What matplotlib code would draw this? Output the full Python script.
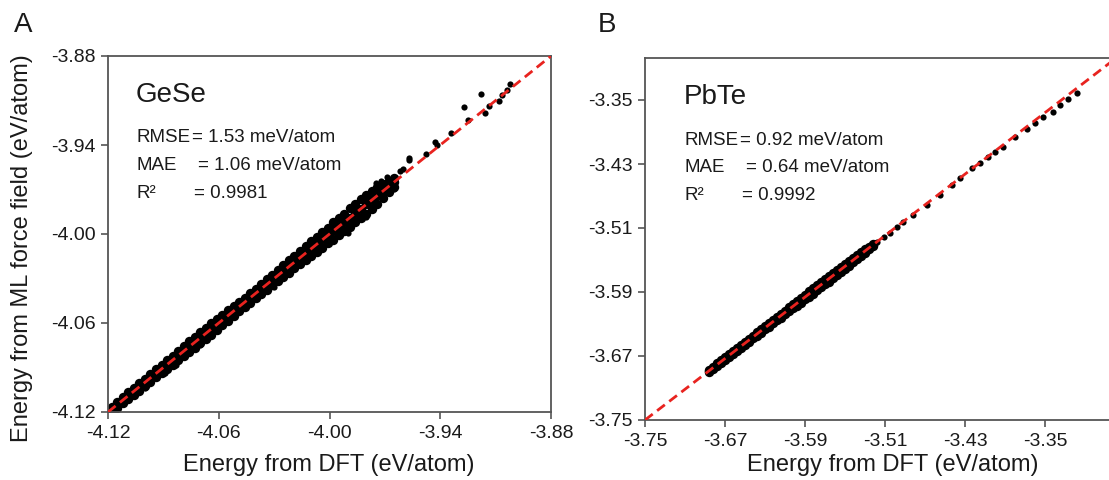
import matplotlib
matplotlib.use("Agg")
import matplotlib.pyplot as plt

plt.rcParams['font.family'] = ['Liberation Sans', 'DejaVu Sans']

# ---------------- Panel A : GeSe ----------------
a_ticks = [-4.12, -4.06, -4.00, -3.94, -3.88]
a_ticklabels = ["-4.12", "-4.06", "-4.00", "-3.94", "-3.88"]

a_band_dft = [-4.118, -4.115, -4.112, -4.109, -4.106, -4.103, -4.100, -4.097, -4.094, -4.091,
              -4.088, -4.085, -4.082, -4.079, -4.076, -4.073, -4.070, -4.067, -4.064, -4.061,
              -4.058, -4.055, -4.052, -4.049, -4.046, -4.043, -4.040, -4.037, -4.034, -4.031,
              -4.028, -4.025, -4.022, -4.019, -4.016, -4.013, -4.010, -4.007, -4.004, -4.001,
              -3.998, -3.995, -3.992, -3.989, -3.986, -3.983, -3.980, -3.977, -3.974, -3.971,
              -3.968, -3.965]
a_band_ml_low = [-4.1195, -4.1170, -4.1142, -4.1113, -4.1085, -4.1056, -4.1025, -4.0998, -4.0967, -4.0940,
                 -4.0908, -4.0880, -4.0852, -4.0825, -4.0796, -4.0768, -4.0736, -4.0708, -4.0680, -4.0648,
                 -4.0615, -4.0586, -4.0552, -4.0520, -4.0490, -4.0462, -4.0430, -4.0403, -4.0375, -4.0344,
                 -4.0318, -4.0290, -4.0262, -4.0230, -4.0204, -4.0178, -4.0150, -4.0122, -4.0095, -4.0063,
                 -4.0038, -4.0010, -3.9978, -3.9952, -3.9920, -3.9895, -3.9863, -3.9830, -3.9795, -3.9760,
                 -3.9720, -3.9680]
a_band_ml_mid = [-4.1178, -4.1153, -4.1117, -4.1092, -4.1056, -4.1034, -4.0999, -4.0975, -4.0936, -4.0911,
                 -4.0877, -4.0853, -4.0818, -4.0794, -4.0755, -4.0732, -4.0699, -4.0673, -4.0636, -4.0611,
                 -4.0578, -4.0554, -4.0517, -4.0492, -4.0459, -4.0433, -4.0396, -4.0371, -4.0338, -4.0314,
                 -4.0277, -4.0252, -4.0215, -4.0193, -4.0159, -4.0135, -4.0096, -4.0072, -4.0037, -4.0014,
                 -3.9978, -3.9951, -3.9916, -3.9893, -3.9859, -3.9832, -3.9797, -3.9774, -3.9738, -3.9711,
                 -3.9677, -3.9650]
a_band_ml_high = [-4.1165, -4.1130, -4.1098, -4.1067, -4.1035, -4.1004, -4.0975, -4.0942, -4.0913, -4.0880,
                  -4.0852, -4.0820, -4.0788, -4.0755, -4.0724, -4.0692, -4.0664, -4.0632, -4.0600, -4.0572,
                  -4.0545, -4.0514, -4.0488, -4.0460, -4.0430, -4.0398, -4.0370, -4.0337, -4.0305, -4.0276,
                  -4.0242, -4.0210, -4.0178, -4.0150, -4.0116, -4.0082, -4.0050, -4.0018, -3.9985, -3.9957,
                  -3.9922, -3.9890, -3.9862, -3.9828, -3.9800, -3.9765, -3.9737, -3.9710, -3.9685, -3.9660,
                  -3.9640, -3.9620]
a_out_dft = [-3.927, -3.918, -3.916, -3.9135, -3.925, -3.908, -3.9065, -3.904, -3.902, -3.943,
             -3.942, -3.9476, -3.957, -3.934, -3.962, -3.969, -3.9714, -3.965, -3.972, -3.957,
             -3.980, -4.089, -4.083, -4.100, -4.070, -4.030, -3.990, -3.975, -3.960]
a_out_ml = [-3.9146, -3.9056, -3.9186, -3.9140, -3.9234, -3.9100, -3.9064, -3.9030, -3.8990, -3.9380,
            -3.9400, -3.9464, -3.9485, -3.9320, -3.9573, -3.9614, -3.9716, -3.9695, -3.9640, -3.9500,
            -3.9885, -4.0935, -4.0885, -4.1035, -4.0745, -4.0360, -3.9990, -3.9655, -3.9560]
a_ref_x = [-4.12, -3.88]
a_ref_y = [-4.12, -3.88]

# ---------------- Panel B : PbTe ----------------
b_ticks = [-3.75, -3.67, -3.59, -3.51, -3.43, -3.35]
b_ticklabels = ["-3.75", "-3.67", "-3.59", "-3.51", "-3.43", "-3.35"]

b_band_dft = [-3.686, -3.682, -3.678, -3.674, -3.670, -3.666, -3.662, -3.658, -3.654, -3.650,
              -3.646, -3.642, -3.638, -3.634, -3.630, -3.626, -3.622, -3.618, -3.614, -3.610,
              -3.606, -3.602, -3.598, -3.594, -3.590, -3.586, -3.582, -3.578, -3.574, -3.570,
              -3.566, -3.562, -3.558, -3.554, -3.550, -3.546, -3.542, -3.538, -3.534, -3.530,
              -3.526, -3.522]
b_band_ml_low = [-3.68976, -3.68622, -3.68248, -3.67884, -3.67470, -3.67106, -3.66752, -3.66348, -3.65944, -3.65590,
                 -3.65216, -3.64812, -3.64458, -3.64064, -3.63660, -3.63316, -3.62912, -3.62558, -3.62194, -3.61780,
                 -3.61416, -3.61052, -3.60688, -3.60324, -3.59920, -3.59576, -3.59222, -3.58808, -3.58404, -3.58050,
                 -3.57696, -3.57292, -3.56868, -3.56464, -3.56120, -3.55716, -3.55292, -3.54888, -3.54484, -3.54080,
                 -3.53676, -3.53262]
b_band_ml_mid = [-3.68836, -3.68502, -3.68058, -3.67714, -3.67280, -3.66976, -3.66542, -3.66188, -3.65764, -3.65430,
                 -3.64986, -3.64642, -3.64208, -3.63904, -3.63470, -3.63116, -3.62692, -3.62358, -3.61914, -3.61570,
                 -3.61136, -3.60832, -3.60398, -3.60044, -3.59620, -3.59286, -3.58842, -3.58498, -3.58064, -3.57760,
                 -3.57326, -3.56972, -3.56548, -3.56214, -3.55770, -3.55426, -3.54992, -3.54688, -3.54254, -3.53900,
                 -3.53476, -3.53142]
b_band_ml_high = [-3.68736, -3.68322, -3.67928, -3.67524, -3.67170, -3.66766, -3.66352, -3.65988, -3.65624, -3.65210,
                  -3.64816, -3.64452, -3.64038, -3.63664, -3.63300, -3.62876, -3.62512, -3.62098, -3.61694, -3.61340,
                  -3.60936, -3.60532, -3.60128, -3.59724, -3.59360, -3.58936, -3.58522, -3.58168, -3.57804, -3.57390,
                  -3.56976, -3.56612, -3.56268, -3.55904, -3.55480, -3.55116, -3.54772, -3.54408, -3.54044, -3.53680,
                  -3.53316, -3.52962]
b_out_dft = [-3.518, -3.511, -3.505, -3.498, -3.492, -3.482, -3.468, -3.455, -3.443, -3.435,
             -3.423, -3.415, -3.407, -3.400, -3.392, -3.380, -3.368, -3.360, -3.352, -3.342,
             -3.335, -3.327, -3.318]
b_out_ml = [-3.5275, -3.5210, -3.5160, -3.5090, -3.5025, -3.4938, -3.4813, -3.4688, -3.4563, -3.4475,
            -3.4350, -3.4288, -3.4213, -3.4150, -3.4088, -3.3963, -3.3863, -3.3788, -3.3713, -3.3650,
            -3.3563, -3.3488, -3.3413]
b_ref_x = [-3.75, -3.27]
b_ref_y = [-3.75, -3.289]

W, H = 1109, 480
fig = plt.figure(figsize=(W / 100, H / 100), dpi=100)

def frac(left, top, right, bottom):
    return [left / W, 1 - bottom / H, (right - left) / W, (bottom - top) / H]

ax_a = fig.add_axes(frac(108, 56, 551, 412))
ax_b = fig.add_axes(frac(645, 58, 1125, 420))

SPINE = '#555555'
TXT = '#1a1a1a'
RED = '#e8231f'
MS_BAND = 46
MS_OUT = 20

def style(ax, ticks, labels):
    for s in ax.spines.values():
        s.set_color(SPINE)
        s.set_linewidth(1.3)
    ax.set_xticks(ticks)
    ax.set_yticks(ticks)
    ax.set_xticklabels(labels)
    ax.set_yticklabels(labels)
    ax.tick_params(direction='out', length=5, width=1.2, color=SPINE,
                   labelsize=14, labelcolor=TXT, pad=4)

# Panel A
for ml in (a_band_ml_low, a_band_ml_mid, a_band_ml_high):
    ax_a.scatter(a_band_dft, ml, s=MS_BAND, c='black', linewidths=0, zorder=2)
ax_a.scatter(a_out_dft, a_out_ml, s=MS_OUT, c='black', linewidths=0, zorder=2)
ax_a.plot(a_ref_x, a_ref_y, color=RED, lw=2.0, linestyle=(0, (3.5, 2.0)), zorder=3)
ax_a.set_xlim(-4.12, -3.88)
ax_a.set_ylim(-4.12, -3.88)
style(ax_a, a_ticks, a_ticklabels)

# Panel B
for ml in (b_band_ml_low, b_band_ml_mid, b_band_ml_high):
    ax_b.scatter(b_band_dft, ml, s=MS_BAND, c='black', linewidths=0, zorder=2)
ax_b.scatter(b_out_dft, b_out_ml, s=MS_OUT, c='black', linewidths=0, zorder=2)
ax_b.plot(b_ref_x, b_ref_y, color=RED, lw=2.0, linestyle=(0, (3.5, 2.0)), zorder=3)
ax_b.set_xlim(-3.75, -3.27)
ax_b.set_ylim(-3.75, -3.2975)
style(ax_b, b_ticks, b_ticklabels)

# Annotations
def stats(ax_px_left, y0, name, rmse, mae, r2):
    fig.text(ax_px_left / W, 1 - y0 / H, name, fontsize=20, color=TXT, va='center', ha='left')
    rows = [("RMSE", rmse, 56), ("MAE", mae, 62), ("R\u00b2", r2, 58)]
    for i, (lab, val, dx) in enumerate(rows):
        yy = y0 + 43 + i * 27.5
        fig.text(ax_px_left / W, 1 - yy / H, lab, fontsize=13.5, color=TXT, va='center', ha='left')
        fig.text((ax_px_left + dx) / W, 1 - yy / H, val, fontsize=13.5, color=TXT,
                 va='center', ha='left')

stats(136, 95, "GeSe", "= 1.53 meV/atom", "= 1.06 meV/atom", "= 0.9981")
stats(684, 97, "PbTe", "= 0.92 meV/atom", "= 0.64 meV/atom", "= 0.9992")

# Panel letters
fig.text(23 / W, 1 - 25 / H, "A", fontsize=20, color=TXT, ha='center', va='center')
fig.text(607 / W, 1 - 25 / H, "B", fontsize=20, color=TXT, ha='center', va='center')

# Axis labels
fig.text(22 / W, 1 - 248 / H, "Energy from ML force field (eV/atom)", fontsize=17,
         color=TXT, rotation=90, ha='center', va='center')
fig.text(329 / W, 1 - 465 / H, "Energy from DFT (eV/atom)", fontsize=17,
         color=TXT, ha='center', va='center')
fig.text(893 / W, 1 - 465 / H, "Energy from DFT (eV/atom)", fontsize=17,
         color=TXT, ha='center', va='center')

fig.savefig("out.png", dpi=100)
